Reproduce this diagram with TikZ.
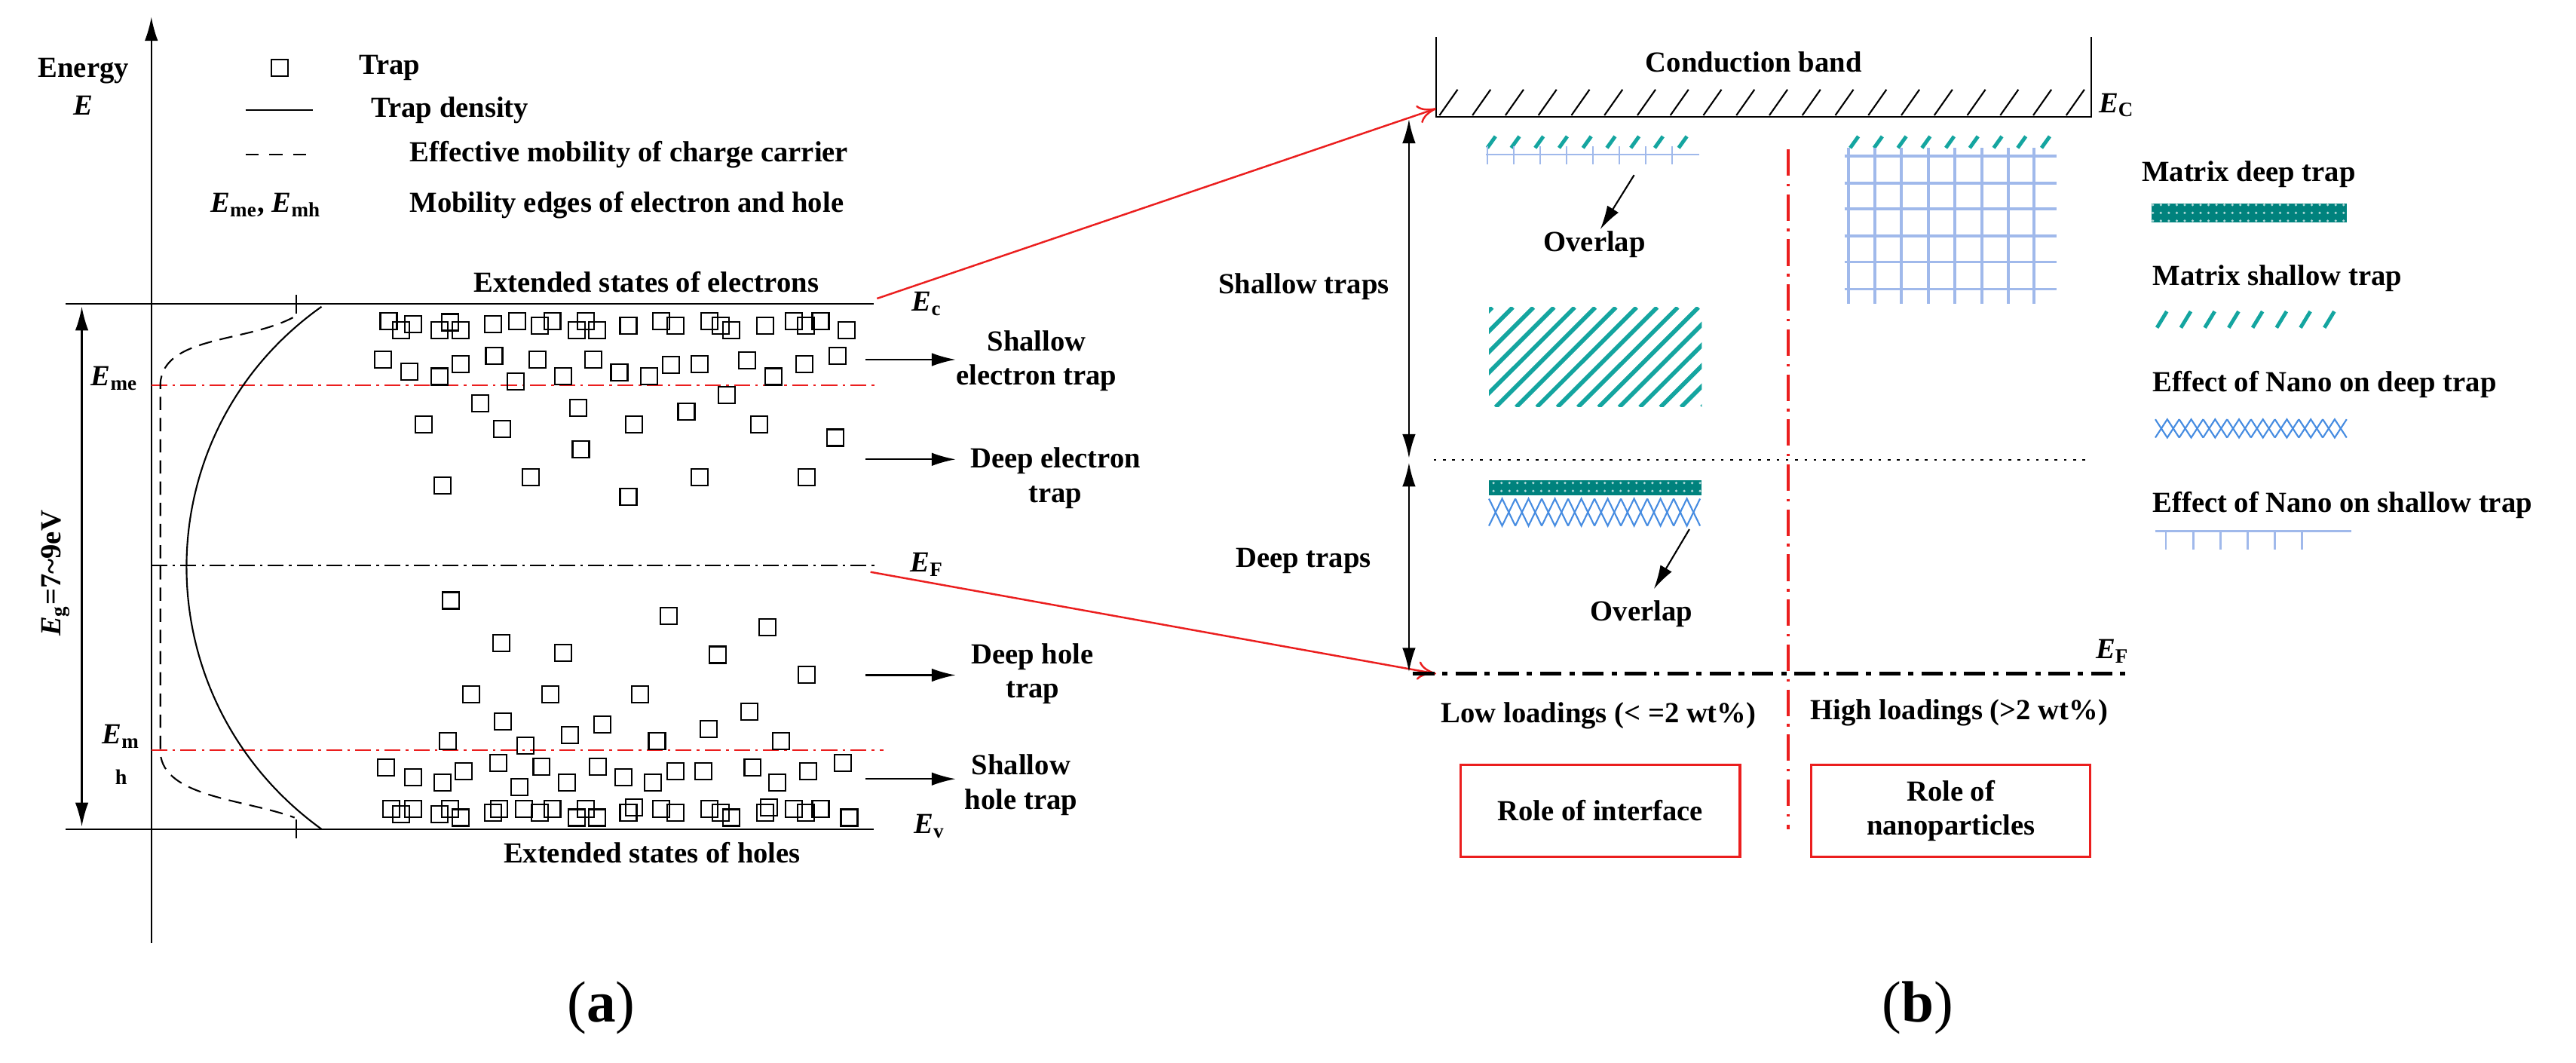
\documentclass[tikz,border=0pt]{standalone}
\usepackage{fontspec}
\setmainfont{Liberation Serif}
\usetikzlibrary{arrows.meta,patterns}
\definecolor{tealA}{RGB}{20,165,160}
\definecolor{tealD}{RGB}{0,130,125}
\definecolor{lblue}{RGB}{160,185,235}
\definecolor{zblue}{RGB}{70,140,225}
\definecolor{redL}{RGB}{235,30,30}
\tikzset{
  txt/.style={font=\fontsize{11}{13}\selectfont\bfseries, inner sep=1pt, align=center},
  trap/.style={draw, line width=0.6pt, minimum size=0.22cm, inner sep=0pt},
  rdash/.style={redL, line width=0.6pt, dash pattern=on 6pt off 2pt on 1pt off 2pt},
  kdash/.style={black, line width=0.6pt, dash pattern=on 6pt off 2pt on 1pt off 2pt},
  rbox/.style={draw=redL, line width=0.9pt, minimum width=0.0218cm*170, minimum height=0.0218cm*56, font=\fontsize{11}{13}\selectfont\bfseries, align=center},
  slash/.style={tealA, line width=1.4pt},
  grid/.style={lblue, line width=1pt}
}
\begin{document}
\begin{tikzpicture}[x=0.0218cm, y=-0.0218cm]
\useasboundingbox (0,0) rectangle (1568,647);
\fill[white] (0,0) rectangle (1568,647);

% ---- (a) ----
\begin{scope}[xscale=0.498, yscale=0.413]
\coordinate (axb) at (185,1390);
\coordinate (axt) at (185,25);
\draw[-{Latex[length=9pt,width=5pt]}, line width=0.6pt] (axb) -- (axt);
\node[txt] (energy) at (102,105) {Energy};
\node[txt] (eE) at (102,155) {\textit{E}};

% legend
\node[trap] (lgtrap) at (342,100) {};
\node[txt, anchor=west] (lgtraptxt) at (435,100) {Trap};
\coordinate (ls1) at (300,162); \coordinate (ls2) at (382,162);
\draw[line width=0.6pt] (ls1) -- (ls2);
\node[txt, anchor=west] (lgden) at (450,162) {Trap density};
\coordinate (ld1) at (300,228); \coordinate (ld2) at (382,228);
\draw[line width=0.6pt, dash pattern=on 5pt off 4pt] (ld1) -- (ld2);
\node[txt, anchor=west] (lgmob) at (497,228) {Effective mobility of charge carrier};
\node[txt] (lgedge) at (325,302) {\textit{E}\textsubscript{me}, \textit{E}\textsubscript{mh}};
\node[txt, anchor=west] (lgedgetxt) at (497,302) {Mobility edges of electron and hole};

% levels
\coordinate (ec1) at (80,448); \coordinate (ec2) at (1068,448);
\coordinate (ev1) at (80,1222); \coordinate (ev2) at (1068,1222);
\draw[line width=0.7pt] (ec1) -- (ec2);
\draw[line width=0.7pt] (ev1) -- (ev2);
\coordinate (me1) at (185,568); \coordinate (me2) at (1075,568);
\coordinate (ef1) at (185,833); \coordinate (ef2) at (1070,833);
\coordinate (mh1) at (185,1106); \coordinate (mh2) at (1080,1106);
\draw[rdash] (me1) -- (me2);
\draw[kdash] (ef1) -- (ef2);
\draw[rdash] (mh1) -- (mh2);
\coordinate (ecL) at (1072,440);
\coordinate (efL) at (1064,843);

\node[txt] (ecstates) at (790,416) {Extended states of electrons};
\node[txt] (evstates) at (797,1257) {Extended states of holes};
\node[txt] (lec) at (1133,448) {\textit{E}\textsubscript{c}};
\node[txt] (lef) at (1133,832) {\textit{E}\textsubscript{F}};
\node[txt] (lev) at (1136,1218) {\textit{E}\textsubscript{v}};
\node[txt] (lme) at (140,558) {\textit{E}\textsubscript{me}};
\node[txt] (lm) at (148,1085) {\textit{E}\textsubscript{m}};
\node[txt] (lh) at (148,1145) {\fontsize{8}{9}\selectfont h};

% band gap
\coordinate (eg1) at (100,452); \coordinate (eg2) at (100,1218);
\draw[{Latex[length=9pt,width=5pt]}-{Latex[length=9pt,width=5pt]}, line width=0.6pt] (eg1) -- (eg2);
\node[txt, rotate=90] (egtxt) at (68,845) {\textit{E}\textsubscript{g}=7\textasciitilde9eV};

% curves
\draw[line width=0.6pt] (393,452) .. controls (173,640) and (173,1030) .. (393,1222);
\draw[line width=0.5pt] (362,435) -- (362,462);
\draw[line width=0.5pt] (362,1208) -- (362,1235);
\draw[line width=0.6pt, dash pattern=on 5pt off 3pt] (358,468) .. controls (300,505) and (200,495) .. (196,565) -- (196,1110) .. controls (200,1175) and (300,1178) .. (360,1205);

% traps
\foreach \x/\y [count=\i] in {475/473,505/478,490/487,537/487,563/487,550/475,603/478,632/473,
  660/480,675/473,705/487,730/487,716/473,768/480,808/473,826/480,867/473,881/480,894/487,
  935/480,970/473,985/480,1003/473,1035/487}
  \node[trap] (tt\i) at (\x,\y) {};
\foreach \x/\y [count=\i] in {478/1192,505/1192,490/1200,537/1200,563/1205,550/1192,603/1198,
  610/1192,640/1192,660/1198,675/1192,705/1205,730/1205,716/1192,768/1198,775/1190,808/1192,
  826/1198,867/1192,881/1198,894/1205,935/1198,940/1190,970/1192,985/1198,1003/1192,1038/1205}
  \node[trap] (tb\i) at (\x,\y) {};
\foreach \x/\y [count=\i] in {468/530,500/548,537/555,563/537,604/524,630/562,657/530,688/554,
  725/530,757/549,793/554,820/538,855/537,913/531,945/555,983/537,1024/524,888/582,587/594,
  707/601,518/626,614/632,775/626,839/607,928/626,1021/645,710/662,541/716,649/703,768/732,
  855/703,986/703}
  \node[trap] (tu\i) at (\x,\y) {};
\foreach \x/\y [count=\i] in {551/885,817/908,938/924,613/948,688/962,877/965,986/994,576/1023,
  673/1023,782/1023,615/1063,736/1068,697/1083,866/1074,916/1049,547/1092,642/1099,803/1092,
  955/1092,472/1131,505/1146,541/1153,567/1137,609/1124,635/1160,662/1130,693/1153,731/1130,
  762/1146,798/1153,826/1137,860/1137,920/1131,950/1153,988/1137,1030/1124}
  \node[trap] (tl\i) at (\x,\y) {};

% trap kinds
\foreach \y [count=\i] in {530,677,995,1148} {
  \coordinate (ka\i) at (1058,\y);
  \coordinate (kb\i) at (1168,\y);
  \draw[-{Latex[length=9pt,width=5pt]}, line width=0.6pt] (ka\i) -- (kb\i);
}
\node[txt] (kind1) at (1267,532) {Shallow\\electron trap};
\node[txt] (kind2) at (1290,705) {Deep electron\\trap};
\node[txt] (kind3) at (1262,993) {Deep hole\\trap};
\node[txt] (kind4) at (1248,1157) {Shallow\\hole trap};
\node[font=\fontsize{22}{24}\selectfont] (pa) at (735,1485) {(\textbf{a})};
\end{scope}

% ---- (b) ----
\begin{scope}[shift={(779.8,0)}, xscale=0.502, yscale=0.413]
\coordinate (cb1) at (188,55); \coordinate (cb2) at (188,172);
\coordinate (cb3) at (982,172); \coordinate (cb4) at (982,55);
\draw[line width=0.7pt] (cb1) -- (cb2) -- (cb3) -- (cb4);
\foreach \x in {192,232,...,952}
  \draw[line width=0.6pt] (\x,170) -- ++(22,-38);
\node[txt] (cband) at (573,92) {Conduction band};
\node[txt] (rec) at (1013,155) {\textit{E}\textsubscript{C}};

\coordinate (ecR) at (188,160);
\coordinate (efR) at (188,993);
\draw[redL, line width=0.7pt, -{To[length=7pt,width=7pt]}] (ecL) -- (ecR);
\draw[redL, line width=0.7pt, -{To[length=7pt,width=7pt]}] (efL) -- (efR);

\coordinate (sa1) at (155,176); \coordinate (sa2) at (155,675);
\coordinate (sa3) at (155,682); \coordinate (sa4) at (155,990);
\draw[{Latex[length=9pt,width=5pt]}-{Latex[length=9pt,width=5pt]}, line width=0.6pt] (sa1) -- (sa2);
\draw[{Latex[length=9pt,width=5pt]}-{Latex[length=9pt,width=5pt]}, line width=0.6pt] (sa3) -- (sa4);
\node[txt, anchor=east] (shtraps) at (135,423) {Shallow traps};
\node[txt, anchor=east] (dptraps) at (113,827) {Deep traps};

\coordinate (dl1) at (185,678); \coordinate (dl2) at (980,678);
\draw[line width=0.6pt, dash pattern=on 1pt off 2.5pt] (dl1) -- (dl2);
\coordinate (vd1) at (615,220); \coordinate (vd2) at (615,1222);
\draw[redL, line width=1pt, dash pattern=on 10pt off 3pt on 1pt off 3pt] (vd1) -- (vd2);
\coordinate (bf1) at (160,993); \coordinate (bf2) at (1030,993);
\draw[line width=1.3pt, dash pattern=on 8pt off 3pt on 2pt off 3pt] (bf1) -- (bf2);
\node[txt] (ref) at (1008,960) {\textit{E}\textsubscript{F}};

\node[txt] (lowld) at (385,1055) {Low loadings (< =2 wt\%)};
\node[txt] (highld) at (822,1050) {High loadings (>2 wt\%)};
\node[rbox] (rint) at (387,1195) {Role of interface};
\node[rbox] (rnano) at (812,1195) {Role of\\nanoparticles};

% low loadings, shallow
\foreach \x in {250,279,...,495} \draw[slash] (\x,218) -- ++(10,-17);
\draw[grid, line width=0.7pt] (248,228) -- (507,228);
\foreach \x in {250,282,...,500} \draw[grid, line width=0.7pt] (\x,216) -- (\x,242);
\begin{scope}
\clip (252,453) rectangle (510,600);
\foreach \x in {110,135,...,510} \draw[tealA, line width=1.6pt] (\x,600) -- ++(121,-147);
\end{scope}
\coordinate (ov1a) at (428,258); \coordinate (ov1b) at (387,338);
\draw[-{Latex[length=9pt,width=5pt]}, line width=0.6pt] (ov1a) -- (ov1b);
\node[txt] (ov1) at (380,360) {Overlap};

% low loadings, deep
\fill[tealD] (252,708) rectangle (510,730);
\fill[pattern=dots, pattern color=white!70!tealD] (252,708) rectangle (510,730);
\foreach \x in {252,284,...,478} {
  \draw[zblue, line width=0.6pt] (\x,735) -- ++(16,40) -- ++(16,-40);
  \draw[zblue, line width=0.6pt] (\x,775) -- ++(16,-40) -- ++(16,40);
}
\coordinate (ov2a) at (495,780); \coordinate (ov2b) at (452,868);
\draw[-{Latex[length=9pt,width=5pt]}, line width=0.6pt] (ov2a) -- (ov2b);
\node[txt] (ov2) at (437,905) {Overlap};

% high loadings
\foreach \x in {690,719,...,930} \draw[slash] (\x,218) -- ++(10,-17);
\foreach \y in {230,270,308,348,386,426} \draw[grid] (683,\y) -- (940,\y);
\foreach \x in {688,720,752,785,817,850,882,913} \draw[grid] (\x,218) -- (\x,448);

% key
\node[txt, anchor=west] (k1) at (1040,257) {Matrix deep trap};
\fill[tealD] (1055,300) rectangle (1292,328);
\fill[pattern=dots, pattern color=white!70!tealD] (1055,300) rectangle (1292,328);
\node[txt, anchor=west] (k2) at (1053,410) {Matrix shallow trap};
\foreach \x in {1062,1091,...,1290} \draw[slash] (\x,483) -- ++(12,-24);
\node[txt, anchor=west] (k3) at (1053,567) {Effect of Nano on deep trap};
\foreach \x in {1060,1089,...,1270} {
  \draw[zblue, line width=0.6pt] (\x,618) -- ++(14.5,27) -- ++(14.5,-27);
  \draw[zblue, line width=0.6pt] (\x,645) -- ++(14.5,-27) -- ++(14.5,27);
}
\node[txt, anchor=west] (k4) at (1053,745) {Effect of Nano on shallow trap};
\draw[grid, line width=0.7pt] (1060,783) -- (1298,783);
\foreach \x in {1073,1106,...,1270} \draw[grid, line width=0.7pt] (\x,783) -- (\x,810);
\node[font=\fontsize{22}{24}\selectfont] (pb) at (772,1485) {(\textbf{b})};
\end{scope}
\end{tikzpicture}
\end{document}
